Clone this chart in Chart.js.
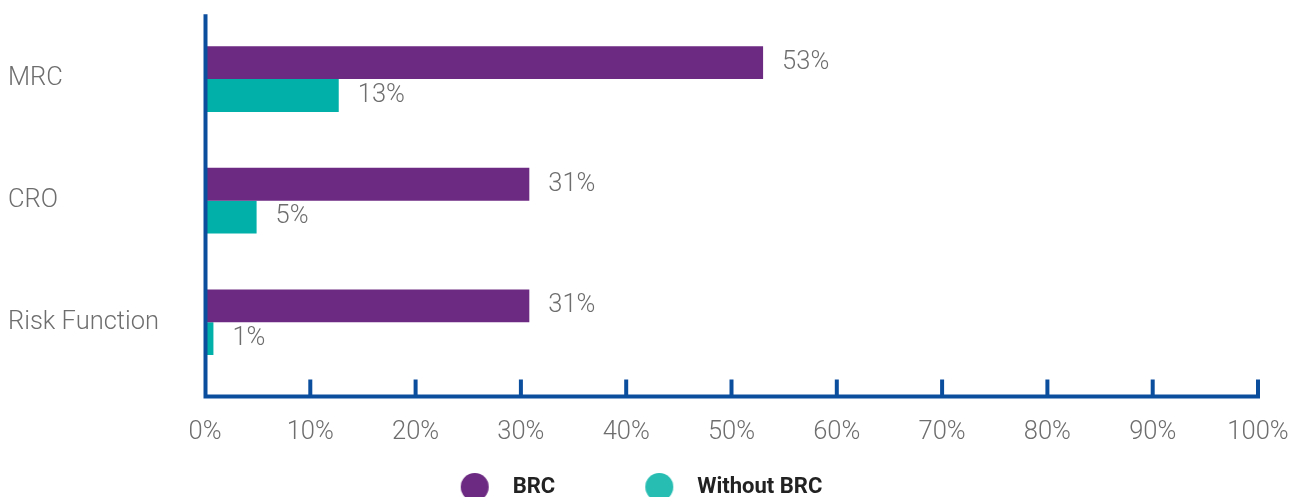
<!DOCTYPE html>
<html>
<head>
<meta charset="utf-8">
<script src="https://cdn.jsdelivr.net/npm/chart.js@4.4.2/dist/chart.umd.min.js"></script>
<style>
  html, body { margin: 0; padding: 0; background: #fff; overflow: hidden; }
  #wrap { position: relative; width: 1306px; height: 508px; }
</style>
</head>
<body>
<div id="wrap"><canvas id="chart"></canvas></div>
<script>
const categories = ['MRC', 'CRO', 'Risk Function'];
const seriesNames = ['BRC', 'Without BRC'];
const brcValues = [53, 30.8, 30.8];
const withoutBrcValues = [12.7, 4.9, 0.8];
const xTicks = [0, 10, 20, 30, 40, 50, 60, 70, 80, 90, 100];

const PURPLE = '#6c2a82';
const TEAL = '#00b0a9';
const TEAL_LEGEND = '#27bdb2';
const AXIS_BLUE = '#0c4e9e';
const GREY = '#6e6e6e';
const LIGHT_FONT = { family: 'Roboto', size: 25.5, weight: '300' };

// legend dot with some empty room on the left, so items sit like in the original
function makeDot(color) {
  const c = document.createElement('canvas');
  c.width = 58;
  c.height = 28;
  const ctx = c.getContext('2d');
  ctx.fillStyle = color;
  ctx.beginPath();
  ctx.arc(31, 14, 14, 0, Math.PI * 2);
  ctx.fill();
  return c;
}
const legendDots = [makeDot(PURPLE), makeDot(TEAL_LEGEND)];

const valueLabels = {
  id: 'valueLabels',
  afterDatasetsDraw(chart) {
    const { ctx } = chart;
    ctx.save();
    ctx.font = `${LIGHT_FONT.weight} ${LIGHT_FONT.size}px ${LIGHT_FONT.family}`;
    ctx.fillStyle = GREY;
    ctx.textAlign = 'left';
    ctx.textBaseline = 'middle';
    chart.data.datasets.forEach((ds, i) => {
      chart.getDatasetMeta(i).data.forEach((bar, j) => {
        ctx.fillText(Math.round(ds.data[j]) + '%', bar.x + 19, bar.y);
      });
    });
    ctx.restore();
  }
};

// the L shaped axis with tick marks pointing up into the plot
const axisFrame = {
  id: 'axisFrame',
  afterDraw(chart) {
    const { ctx, chartArea } = chart;
    const x = chart.scales.x;
    const left = chartArea.left + 0.5;
    const base = chartArea.bottom + 13.5;
    ctx.save();
    ctx.strokeStyle = AXIS_BLUE;
    ctx.lineWidth = 4;
    ctx.beginPath();
    ctx.moveTo(left, chartArea.top - 4);
    ctx.lineTo(left, base + 2);
    ctx.moveTo(left - 2, base);
    ctx.lineTo(x.getPixelForValue(100) + 2, base);
    xTicks.slice(1).forEach(v => {
      const px = x.getPixelForValue(v);
      ctx.moveTo(px, base);
      ctx.lineTo(px, base - 17);
    });
    ctx.stroke();
    ctx.restore();
  }
};

new Chart(document.getElementById('chart'), {
  type: 'bar',
  data: {
    labels: categories,
    datasets: [
      { label: seriesNames[0], data: brcValues, backgroundColor: PURPLE },
      { label: seriesNames[1], data: withoutBrcValues, backgroundColor: TEAL }
    ]
  },
  options: {
    indexAxis: 'y',
    responsive: true,
    maintainAspectRatio: false,
    animation: false,
    categoryPercentage: 0.54,
    barPercentage: 1.0,
    layout: { padding: { top: 17, left: 8, right: 48, bottom: 0 } },
    plugins: {
      tooltip: { enabled: false },
      legend: {
        position: 'bottom',
        labels: {
          usePointStyle: true,
          pointStyleWidth: 58,
          boxHeight: 22,
          padding: 73,
          color: '#222',
          font: { family: 'Roboto', size: 22, weight: 'bold' },
          generateLabels: chart =>
            Chart.defaults.plugins.legend.labels.generateLabels(chart)
              .map((item, i) => ({ ...item, pointStyle: legendDots[i] }))
        }
      }
    },
    scales: {
      x: {
        min: 0,
        max: 100,
        afterFit: scale => {
          scale.height = 20;
          scale.paddingLeft = 0;
          scale.paddingRight = 0;
        },
        afterBuildTicks: scale => { scale.ticks = xTicks.map(v => ({ value: v })); },
        grid: { display: false, drawTicks: false },
        border: { display: false },
        ticks: {
          // mirror keeps the labels from being clipped to the short axis box,
          // negative padding pushes them back below the axis line
          mirror: true,
          padding: -65,
          color: GREY,
          font: LIGHT_FONT,
          maxRotation: 0,
          autoSkip: false,
          callback: v => v + '%'
        }
      },
      y: {
        afterFit: scale => { scale.width = 197; },
        grid: { display: false, drawTicks: false },
        border: { display: false },
        ticks: {
          crossAlign: 'far',
          labelOffset: 0,
          color: GREY,
          font: LIGHT_FONT
        }
      }
    }
  },
  plugins: [valueLabels, axisFrame]
});
</script>
</body>
</html>
